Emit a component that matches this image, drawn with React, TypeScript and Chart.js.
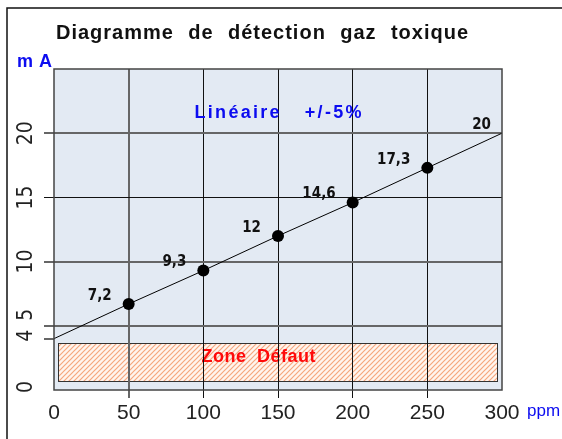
import React, { useEffect, useRef } from "react";
import { Chart, registerables } from "chart.js";

Chart.register(...registerables);

// ---- data ----
const ppmValues = [0, 50, 100, 150, 200, 250, 300];
const mAValues = [4, 6.7, 9.3, 12, 14.6, 17.3, 20];
const pointLabels = ["", "7,2", "9,3", "12", "14,6", "17,3", "20"];
const xTickValues = [0, 50, 100, 150, 200, 250, 300];
const yTickValues = [0, 4, 5, 10, 15, 20];
const yTickLabels = ["0", "4", "5", "10", "15", "20"];
const zonePpm = [3, 297];
const zoneMA = [0.7, 3.65];
const zoneLabelPos = [137, 2.6];
const linearLabelPos = [150, 21.6];
const TITLE = "Diagramme de détection gaz toxique";
const Y_UNIT = "m A";
const X_UNIT = "ppm";
const LINEAR_TEXT = "Linéaire +/-5%";
const ZONE_TEXT = "Zone Défaut";

// ---- style ----
const BLUE = "#0c0cf0";
const RED = "#ff0a0a";
const PLOT_BG = "#e3eaf3";
const Y_LABEL_NUDGE: Record<string, number> = { "0": -3, "4": -3, "5": -11 };

// draws words with fixed letter spacing; word gaps fill the requested total width
function drawWords(
  ctx: CanvasRenderingContext2D,
  text: string,
  x: number,
  y: number,
  total: number,
  ls: number,
  align: "left" | "center"
) {
  const words = text.split(" ");
  const wordInfo = words.map((w) => {
    const chars = [...w];
    const ws = chars.map((c) => ctx.measureText(c).width);
    const width = ws.reduce((a, b) => a + b, 0) + ls * Math.max(0, chars.length - 1);
    return { chars, ws, width };
  });
  const sumW = wordInfo.reduce((a, b) => a + b.width, 0);
  const gap = words.length > 1 ? (total - sumW) / (words.length - 1) : 0;
  let cx = align === "left" ? x : x - total / 2;
  ctx.textAlign = "left";
  wordInfo.forEach((wi) => {
    let px = cx;
    wi.chars.forEach((c, i) => {
      ctx.fillText(c, px, y);
      px += wi.ws[i] + ls;
    });
    cx += wi.width + gap;
  });
}

function makeHatch(ctx: CanvasRenderingContext2D) {
  const s = 5;
  const c = document.createElement("canvas");
  c.width = s;
  c.height = s;
  const g = c.getContext("2d")!;
  g.fillStyle = "#fff5ef";
  g.fillRect(0, 0, s, s);
  g.strokeStyle = "#f5a77e";
  g.lineWidth = 1.2;
  g.beginPath();
  g.moveTo(0, s);
  g.lineTo(s, 0);
  g.moveTo(-1, 1);
  g.lineTo(1, -1);
  g.moveTo(s - 1, s + 1);
  g.lineTo(s + 1, s - 1);
  g.stroke();
  return ctx.createPattern(c, "repeat");
}

const decorPlugin = {
  id: "decor",
  beforeDraw(chart: any) {
    const { ctx, chartArea: a, scales } = chart;
    const xs = scales.x;
    const ys = scales.y;
    ctx.save();
    ctx.fillStyle = "#ffffff";
    ctx.fillRect(0, 0, chart.width, chart.height);
    // outer frame (left + top)
    ctx.strokeStyle = "#111";
    ctx.lineWidth = 1.5;
    ctx.beginPath();
    ctx.moveTo(7, chart.height);
    ctx.lineTo(7, 8);
    ctx.lineTo(chart.width, 8);
    ctx.stroke();
    // plot background
    ctx.fillStyle = PLOT_BG;
    ctx.fillRect(a.left, a.top, a.right - a.left, a.bottom - a.top);
    // fault zone
    const zx1 = xs.getPixelForValue(zonePpm[0]);
    const zx2 = xs.getPixelForValue(zonePpm[1]);
    const zy1 = ys.getPixelForValue(zoneMA[1]);
    const zy2 = ys.getPixelForValue(zoneMA[0]);
    const pat = makeHatch(ctx);
    if (pat) ctx.fillStyle = pat;
    ctx.fillRect(zx1, zy1, zx2 - zx1, zy2 - zy1);
    ctx.strokeStyle = "#333";
    ctx.lineWidth = 1;
    ctx.strokeRect(Math.round(zx1) + 0.5, Math.round(zy1) + 0.5, Math.round(zx2 - zx1), Math.round(zy2 - zy1));
    ctx.fillStyle = RED;
    ctx.font = "bold 18px 'Liberation Sans', Arial, sans-serif";
    ctx.textBaseline = "middle";
    drawWords(ctx, ZONE_TEXT, xs.getPixelForValue(zoneLabelPos[0]), ys.getPixelForValue(zoneLabelPos[1]), 114, 0.5, "center");
    ctx.restore();
  },
  afterDatasetsDraw(chart: any) {
    const { ctx, chartArea: a, scales } = chart;
    const xs = scales.x;
    const ys = scales.y;
    ctx.save();
    // plot border
    ctx.strokeStyle = "#444";
    ctx.lineWidth = 1.5;
    ctx.strokeRect(a.left, a.top, a.right - a.left, a.bottom - a.top);
    // point labels
    const meta = chart.getDatasetMeta(0);
    ctx.fillStyle = "#111";
    ctx.font = "bold 15px 'Liberation Sans Narrow', 'DejaVu Sans Condensed', sans-serif";
    ctx.textBaseline = "middle";
    ctx.textAlign = "right";
    meta.data.forEach((pt: any, i: number) => {
      const lbl = pointLabels[i];
      if (!lbl) return;
      const r = pt.options.radius || 0;
      ctx.fillText(lbl, pt.x - (r + 11), pt.y - 8);
    });
    // linear label
    ctx.fillStyle = BLUE;
    ctx.font = "bold 18px 'Liberation Sans', Arial, sans-serif";
    ctx.textBaseline = "middle";
    drawWords(ctx, LINEAR_TEXT, xs.getPixelForValue(linearLabelPos[0]), ys.getPixelForValue(linearLabelPos[1]), 167, 2.3, "center");
    ctx.restore();
  },
  afterDraw(chart: any) {
    const { ctx, scales } = chart;
    const ys = scales.y;
    ctx.save();
    // title
    ctx.fillStyle = "#111";
    ctx.font = "bold 20px 'Liberation Sans', Arial, sans-serif";
    ctx.textBaseline = "alphabetic";
    drawWords(ctx, TITLE, 56, 39, 412, 1, "left");
    // y unit
    ctx.fillStyle = BLUE;
    ctx.font = "bold 18px 'Liberation Sans', Arial, sans-serif";
    drawWords(ctx, Y_UNIT, 17, 67, 35, 0, "left");
    // x unit
    ctx.font = "17px 'Liberation Sans', Arial, sans-serif";
    ctx.textAlign = "left";
    ctx.fillText(X_UNIT, 527, 416);
    // rotated y tick labels
    ctx.fillStyle = "#222";
    ctx.font = "21px 'Liberation Sans Narrow', 'DejaVu Sans Condensed', sans-serif";
    ctx.textAlign = "center";
    ctx.textBaseline = "middle";
    yTickValues.forEach((v, i) => {
      const lbl = yTickLabels[i];
      const y = ys.getPixelForValue(v) + (Y_LABEL_NUDGE[lbl] || 0);
      ctx.save();
      ctx.translate(26, y);
      ctx.rotate(-Math.PI / 2);
      ctx.fillText(lbl, 0, 1);
      ctx.restore();
    });
    ctx.restore();
  },
};

export default function App() {
  const ref = useRef<HTMLCanvasElement | null>(null);
  useEffect(() => {
    if (!ref.current) return;
    const chart = new Chart(ref.current, {
      type: "line",
      data: {
        datasets: [
          {
            data: ppmValues.map((x, i) => ({ x, y: mAValues[i] })),
            borderColor: "#000",
            borderWidth: 1,
            backgroundColor: "#000",
            pointBackgroundColor: "#000",
            pointBorderWidth: 0,
            pointRadius: (c: any) => (c.dataIndex === 0 || c.dataIndex === ppmValues.length - 1 ? 0 : 6),
            tension: 0,
            fill: false,
          },
        ],
      },
      options: {
        responsive: false,
        animation: false,
        devicePixelRatio: 1,
        layout: { padding: { left: 0, top: 69, right: 60, bottom: 0 } },
        plugins: { legend: { display: false }, tooltip: { enabled: false }, title: { display: false } },
        scales: {
          x: {
            type: "linear",
            min: 0,
            max: 300,
            afterBuildTicks: (s: any) => {
              s.ticks = xTickValues.map((v) => ({ value: v }));
            },
            afterFit: (s: any) => {
              s.height = 49;
            },
            border: { display: false },
            grid: {
              tickLength: 8,
              color: (c: any) => {
                const v = c.tick?.value;
                if (v === 0 || v === 300) return "rgba(0,0,0,0)";
                return v === 50 ? "#666" : "#111";
              },
              tickColor: (c: any) => {
                const v = c.tick?.value;
                if (v === 0 || v === 300) return "rgba(0,0,0,0)";
                return v === 50 ? "#666" : "#111";
              },
              lineWidth: (c: any) => (c.tick?.value === 50 ? 2 : 1),
            },
            ticks: {
              color: "#222",
              font: { family: "'Liberation Sans', Arial, sans-serif", size: 21 },
              padding: 3,
              maxRotation: 0,
              autoSkip: false,
            },
          },
          y: {
            type: "linear",
            min: 0,
            max: 25,
            afterBuildTicks: (s: any) => {
              s.ticks = yTickValues.map((v) => ({ value: v }));
            },
            afterFit: (s: any) => {
              s.width = 54;
            },
            border: { display: false },
            grid: {
              tickLength: 10,
              color: (c: any) => {
                const v = c.tick?.value;
                if (v === 0 || v === 4) return "rgba(0,0,0,0)";
                return v === 15 ? "#111" : "#666";
              },
              tickColor: (c: any) => {
                const v = c.tick?.value;
                if (v === 0) return "rgba(0,0,0,0)";
                return v === 15 ? "#111" : "#666";
              },
              lineWidth: (c: any) => (c.tick?.value === 15 ? 1 : 2),
            },
            ticks: { display: false },
          },
        },
      },
      plugins: [decorPlugin],
    } as any);
    return () => chart.destroy();
  }, []);
  return (
    <div style={{ position: "fixed", left: 0, top: 0, width: 562, height: 439, background: "#fff" }}>
      <canvas ref={ref} width={562} height={439} style={{ display: "block", width: 562, height: 439 }} />
    </div>
  );
}
